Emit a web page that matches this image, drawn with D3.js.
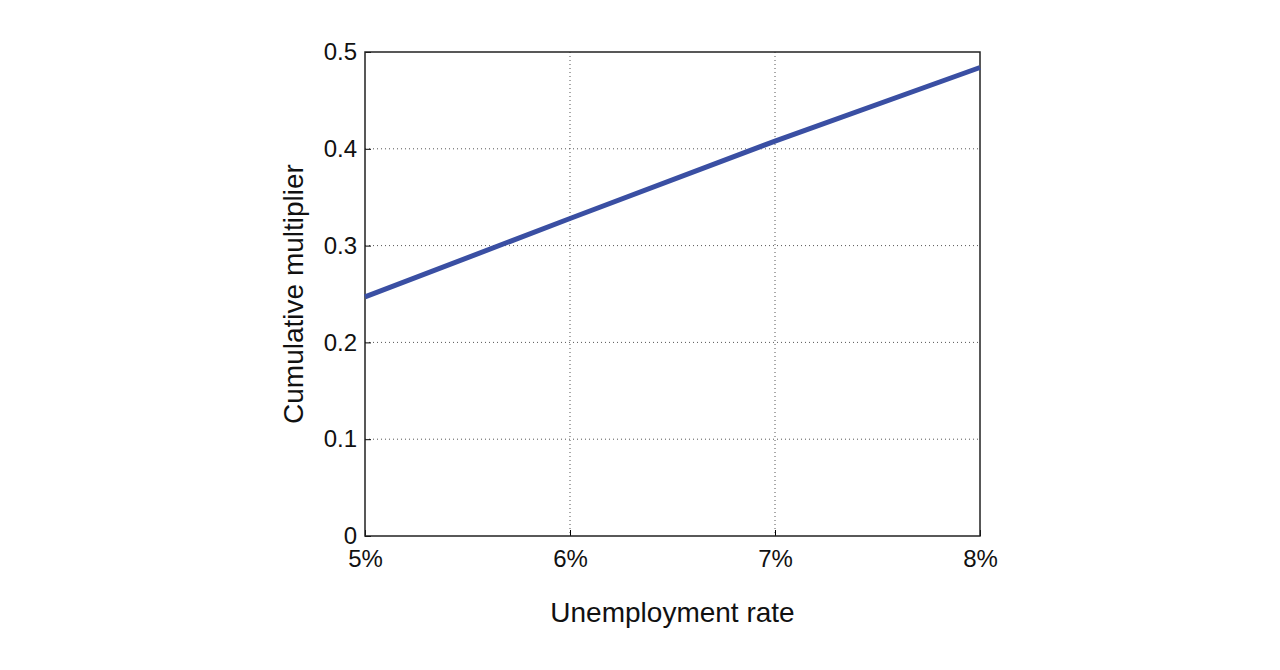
<!DOCTYPE html>
<html>
<head>
<meta charset="utf-8">
<script src="https://cdn.jsdelivr.net/npm/d3@7"></script>
<style>
  body { margin: 0; background: #fff; }
  text { font-family: "Liberation Sans", Arial, sans-serif; fill: #111; }
</style>
</head>
<body>
<svg id="plot" width="1280" height="670"></svg>
<script>
const rates = [5, 6, 7, 8];
const multiplier = [0.247, 0.328, 0.408, 0.484];
const xTicks = [5, 6, 7, 8];
const yTicks = [0, 0.1, 0.2, 0.3, 0.4, 0.5];

const margin = { top: 52, left: 365 };
const width = 615, height = 484;

const svg = d3.select('#plot')
  .append('g')
  .attr('transform', `translate(${margin.left}, ${margin.top})`);

const x = d3.scaleLinear().domain([5, 8]).range([0, width]);
const y = d3.scaleLinear().domain([0, 0.5]).range([height, 0]);

// dotted grid
svg.append('g').selectAll('line').data(xTicks.slice(1, -1)).enter().append('line')
  .attr('x1', d => x(d)).attr('x2', d => x(d)).attr('y1', 0).attr('y2', height)
  .attr('stroke', '#555').attr('stroke-width', 1).attr('stroke-dasharray', '1,3');
svg.append('g').selectAll('line').data(yTicks.slice(1, -1)).enter().append('line')
  .attr('y1', d => y(d)).attr('y2', d => y(d)).attr('x1', 0).attr('x2', width)
  .attr('stroke', '#555').attr('stroke-width', 1).attr('stroke-dasharray', '1,3');

const xAxis = svg.append('g')
  .attr('transform', `translate(0, ${height})`)
  .call(d3.axisBottom(x).tickValues(xTicks).tickFormat(d => d + '%').tickSizeInner(-6).tickSizeOuter(0).tickPadding(14));
const yAxis = svg.append('g')
  .call(d3.axisLeft(y).tickValues(yTicks).tickFormat(d => d === 0 ? '0' : d3.format('.1f')(d)).tickSizeInner(-6).tickSizeOuter(0).tickPadding(8));
[xAxis, yAxis].forEach(a => {
  a.selectAll('text').style('font-size', '24px').style('fill', '#111');
  a.select('.domain').remove();
});

// box
svg.append('rect').attr('width', width).attr('height', height)
  .attr('fill', 'none').attr('stroke', '#222').attr('stroke-width', 1.5);

svg.append('path')
  .datum(rates.map((r, i) => [r, multiplier[i]]))
  .attr('fill', 'none').attr('stroke', '#3a4fa3').attr('stroke-width', 5)
  .attr('d', d3.line().x(d => x(d[0])).y(d => y(d[1])));

svg.append('text').attr('text-anchor', 'middle')
  .attr('x', width / 2).attr('y', height + 86)
  .style('font-size', '28px').text('Unemployment rate');
svg.append('text').attr('text-anchor', 'middle')
  .attr('transform', 'rotate(-90)')
  .attr('x', -height / 2).attr('y', -62)
  .style('font-size', '28px').text('Cumulative multiplier');
</script>
</body>
</html>
